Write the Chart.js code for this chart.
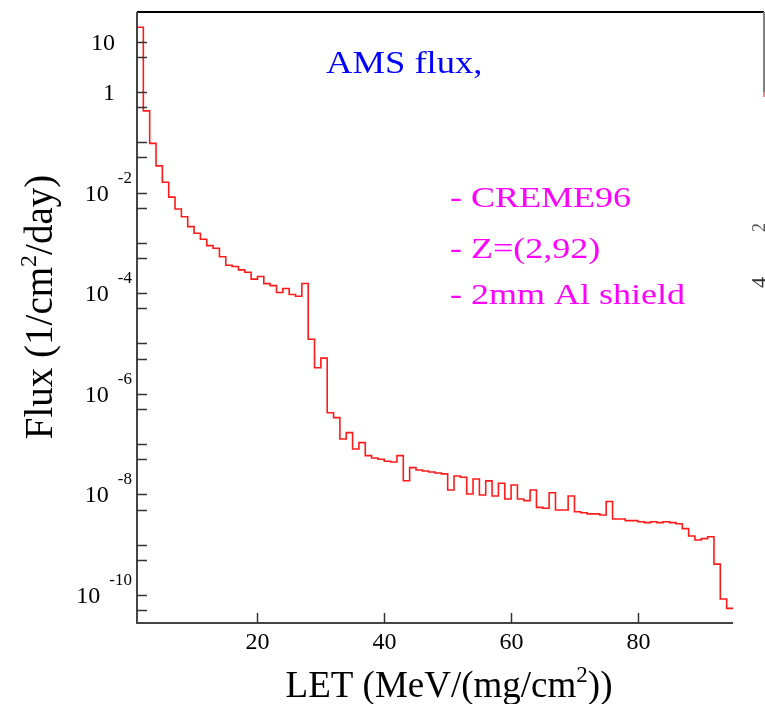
<!DOCTYPE html>
<html>
<head>
<meta charset="utf-8">
<script src="https://cdn.jsdelivr.net/npm/chart.js@4.4.0/dist/chart.umd.min.js"></script>
<style>
  html, body { margin: 0; padding: 0; background: #fff; }
  #wrap { width: 765px; height: 704px; position: relative; }
</style>
</head>
<body>
<div id="wrap"><canvas id="fluxChart"></canvas></div>
<script>
// --- DATA ---
// LET bin edges (MeV/(mg/cm2)), one unit wide
const letEdges = [1, 2, 3, 4, 5, 6, 7, 8, 9, 10, 11, 12, 13, 14, 15, 16, 17, 18, 19, 20,
  21, 22, 23, 24, 25, 26, 27, 28, 29, 30, 31, 32, 33, 34, 35, 36, 37, 38, 39, 40,
  41, 42, 43, 44, 45, 46, 47, 48, 49, 50, 51, 52, 53, 54, 55, 56, 57, 58, 59, 60,
  61, 62, 63, 64, 65, 66, 67, 68, 69, 70, 71, 72, 73, 74, 75, 76, 77, 78, 79, 80,
  81, 82, 83, 84, 85, 86, 87, 88, 89, 90, 91, 92, 93, 94, 95];

// flux per bin (1/cm2/day), CREME96, Z=(2,92), 2mm Al
const fluxValues = [19.3, 0.42, 0.095, 0.034, 0.016, 0.0081, 0.0047, 0.0033, 0.0021, 0.00155,
  0.00118, 8.8e-4, 7.8e-4, 5.3e-4, 3.6e-4, 3.4e-4, 2.9e-4, 2.6e-4, 1.9e-4, 2.15e-4,
  1.55e-4, 1.41e-4, 1.03e-4, 1.24e-4, 9.4e-5, 8.7e-5, 1.56e-4, 1.21e-5, 3.3e-6, 5.1e-6,
  4.2e-7, 3.35e-7, 1.26e-7, 1.69e-7, 8.0e-8, 1.07e-7, 5.9e-8, 5.3e-8, 5.0e-8, 4.55e-8,
  4.4e-8, 5.9e-8, 1.86e-8, 3.4e-8, 3.05e-8, 2.92e-8, 2.79e-8, 2.66e-8, 2.55e-8, 1.22e-8,
  2.32e-8, 2.19e-8, 1.02e-8, 2.02e-8, 9.7e-9, 1.85e-8, 9.3e-9, 1.66e-8, 8.1e-9, 1.54e-8,
  8.1e-9, 7.5e-9, 1.22e-8, 5.5e-9, 5.3e-9, 1.08e-8, 4.9e-9, 4.9e-9, 9.3e-9, 4.5e-9,
  4.3e-9, 4.1e-9, 4.1e-9, 3.9e-9, 7.2e-9, 3.24e-9, 3.24e-9, 3.0e-9, 3.0e-9, 2.86e-9,
  2.74e-9, 2.86e-9, 2.74e-9, 2.86e-9, 2.74e-9, 2.61e-9, 2.08e-9, 1.49e-9, 1.24e-9, 1.32e-9,
  1.44e-9, 4.1e-10, 8.3e-11, 5.4e-11];

const xTicks = [20, 40, 60, 80];
const yTicks = [10, 5, 1, 0.5, 0.1, 0.05, 0.01, 0.005, 1e-3, 5e-4, 1e-4, 5e-5, 1e-5, 5e-6,
  1e-6, 5e-7, 1e-7, 5e-8, 1e-8, 5e-9, 1e-9, 5e-10, 1e-10, 5e-11];
const yLabelValues = [10, 1, 1e-2, 1e-4, 1e-6, 1e-8, 1e-10];
const yLabelBases = ["10", "1", "10", "10", "10", "10", "10"];
const yLabelExps = ["", "", "-2", "-4", "-6", "-8", "-10"];

const SERIF = "'Liberation Serif', 'DejaVu Serif', serif";

// histogram as step line: value of bin i holds from edge i to edge i+1
const stepPoints = letEdges.map((x, i) => ({ x: x, y: fluxValues[Math.min(i, fluxValues.length - 1)] }));

function texto(ctx, txt, x, y, size, color, align, sx) {
  ctx.save();
  ctx.font = size + "px " + SERIF;
  ctx.fillStyle = color;
  ctx.textAlign = align || "left";
  ctx.textBaseline = "alphabetic";
  ctx.translate(x, y);
  ctx.scale(sx || 1, 1);
  ctx.fillText(txt, 0, 0);
  ctx.restore();
}

// text with one superscript part: [before, sup, after]
function textoSup(ctx, parts, cx, y, size, supSize, rise) {
  ctx.font = size + "px " + SERIF;
  const w1 = ctx.measureText(parts[0]).width;
  const w3 = ctx.measureText(parts[2]).width;
  ctx.font = supSize + "px " + SERIF;
  const w2 = ctx.measureText(parts[1]).width;
  let x = cx - (w1 + w2 + w3) / 2;
  ctx.fillStyle = "#000";
  ctx.textAlign = "left";
  ctx.textBaseline = "alphabetic";
  ctx.font = size + "px " + SERIF;
  ctx.fillText(parts[0], x, y);
  x += w1;
  ctx.font = supSize + "px " + SERIF;
  ctx.fillText(parts[1], x, y - rise);
  x += w2;
  ctx.font = size + "px " + SERIF;
  ctx.fillText(parts[2], x, y);
}

const ejesPlugin = {
  id: "ejes",
  afterDraw(chart) {
    const ctx = chart.ctx;
    const a = chart.chartArea;
    const xs = chart.scales.x;
    const ys = chart.scales.y;
    ctx.save();

    // frame
    ctx.lineWidth = 2;
    ctx.strokeStyle = "#000";
    ctx.beginPath();
    ctx.moveTo(a.left, a.top);
    ctx.lineTo(764, a.top);
    ctx.stroke();
    ctx.strokeStyle = "#808080";
    ctx.beginPath();
    ctx.moveTo(764, a.top);
    ctx.lineTo(764, 92);
    ctx.stroke();
    ctx.strokeStyle = "#ff8080";
    ctx.beginPath();
    ctx.moveTo(764, 92);
    ctx.lineTo(764, 97);
    ctx.stroke();

    ctx.strokeStyle = "#444";
    ctx.beginPath();
    ctx.moveTo(a.left, a.top);
    ctx.lineTo(a.left, a.bottom);
    ctx.lineTo(a.right, a.bottom);
    ctx.stroke();

    // y ticks (inside)
    ctx.lineWidth = 1.5;
    ctx.strokeStyle = "#333";
    yTicks.forEach(v => {
      const py = Math.round(ys.getPixelForValue(v)) + 0.5;
      ctx.beginPath();
      ctx.moveTo(a.left, py);
      ctx.lineTo(a.left + 10, py);
      ctx.stroke();
    });
    // x ticks (inside)
    xTicks.forEach(v => {
      const px = Math.round(xs.getPixelForValue(v)) + 0.5;
      ctx.beginPath();
      ctx.moveTo(px, a.bottom);
      ctx.lineTo(px, a.bottom - 10);
      ctx.stroke();
      texto(ctx, String(v), px, a.bottom + 26, 24, "#000", "center");
    });

    // y labels with exponent
    yLabelValues.forEach((v, i) => {
      const py = ys.getPixelForValue(v);
      const exp = yLabelExps[i];
      if (exp === "") {
        texto(ctx, yLabelBases[i], 115, py + 8, 24, "#000", "right");
      } else {
        ctx.font = "17px " + SERIF;
        const we = ctx.measureText(exp).width;
        texto(ctx, exp, 132, py - 10, 17, "#000", "right");
        texto(ctx, yLabelBases[i], 132 - we - 9, py + 8, 24, "#000", "right");
      }
    });

    // axis titles
    textoSup(ctx, ["LET (MeV/(mg/cm", "2", "))"], 449, 697, 37, 23, 15);
    ctx.save();
    ctx.translate(52, 307);
    ctx.rotate(-Math.PI / 2);
    textoSup(ctx, ["Flux (1/cm", "2", "/day)"], 0, 0, 39, 24, 16);
    ctx.restore();

    // annotations
    texto(ctx, "AMS flux,", 326, 73, 31, "#0000ff", "left", 1.18);
    texto(ctx, "- CREME96", 450, 207, 30, "#ff00ff", "left", 1.2);
    texto(ctx, "- Z=(2,92)", 450, 258, 30, "#ff00ff", "left", 1.2);
    texto(ctx, "- 2mm Al shield", 450, 304, 30, "#ff00ff", "left", 1.2);

    // cut-off glyphs of the neighbouring panel
    ctx.save();
    ctx.fillStyle = "#555";
    ctx.font = "18px " + SERIF;
    ctx.translate(765, 232);
    ctx.rotate(-Math.PI / 2);
    ctx.fillText("2", 0, 0);
    ctx.restore();
    ctx.save();
    ctx.fillStyle = "#333";
    ctx.font = "22px " + SERIF;
    ctx.translate(766, 288);
    ctx.rotate(-Math.PI / 2);
    ctx.fillText("4", 0, 0);
    ctx.restore();

    ctx.restore();
  }
};

new Chart(document.getElementById("fluxChart"), {
  type: "line",
  data: {
    datasets: [{
      label: "AMS flux",
      data: stepPoints,
      stepped: "before",
      borderColor: "#ff1a1a",
      borderWidth: 1.6,
      pointRadius: 0,
      fill: false
    }]
  },
  options: {
    responsive: true,
    maintainAspectRatio: false,
    animation: false,
    layout: { padding: { left: 137, right: 32, top: 12, bottom: 81 } },
    scales: {
      x: { type: "linear", min: 1, max: 95, display: false },
      y: { type: "logarithmic", min: 2.77e-11, max: 38.9, display: false }
    },
    plugins: { legend: { display: false }, tooltip: { enabled: false } }
  },
  plugins: [ejesPlugin]
});
</script>
</body>
</html>
